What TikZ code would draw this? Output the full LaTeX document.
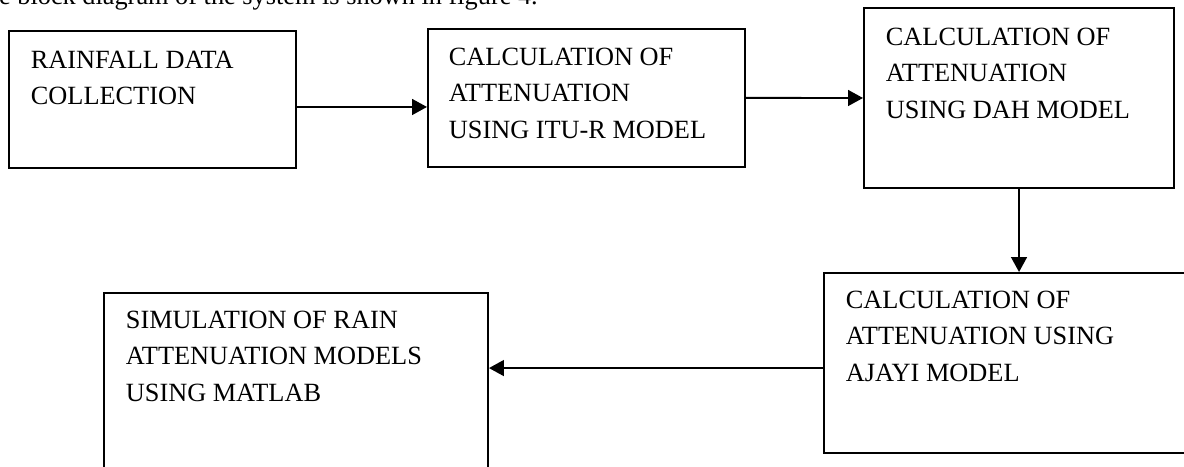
\documentclass[tikz,border=0pt]{standalone}
\usepackage{fontspec}
\setmainfont{Liberation Serif}
\usetikzlibrary{arrows.meta,positioning}

\begin{document}
\begin{tikzpicture}[x=0.456pt, y=-0.456pt, thick,
    box/.style={rectangle, draw, line width=0.9pt, anchor=north west, inner sep=0pt},
    txt/.style={anchor=north west, inner sep=0pt, align=left, font=\fontsize{12}{16.6}\selectfont},
    line/.style={draw, line width=0.9pt, -{Triangle[length=6.8pt, width=7.2pt]}}]

    \useasboundingbox (0,0) rectangle (1184,466);
    \clip (0,0) rectangle (1184,466);

    % cut-off sentence above the figure
    \node [anchor=base west, inner sep=0pt, font=\fontsize{12}{16.6}\selectfont] (intro) at (-31,4)
        {The block diagram of the system is shown in figure 4.};

    \node [box, minimum width=130.9pt, minimum height=62.5pt] (rain) at (8,30) {};
    \node [txt] (rain-t) at ([shift={(22,20)}]rain.north west) {RAINFALL DATA\\COLLECTION};

    \node [box, minimum width=144.6pt, minimum height=62.9pt] (itu) at (427,28) {};
    \node [txt] (itu-t) at ([shift={(21,19)}]itu.north west) {CALCULATION OF\\ATTENUATION\\USING ITU-R MODEL};

    \node [box, minimum width=141.4pt, minimum height=82.1pt] (dah) at (863,7) {};
    \node [txt] (dah-t) at ([shift={(22,20)}]dah.north west) {CALCULATION OF\\ATTENUATION\\USING DAH MODEL};

    \node [box, minimum width=167.4pt, minimum height=82.1pt] (ajayi) at (823,272) {};
    \node [txt] (ajayi-t) at ([shift={(22,18)}]ajayi.north west) {CALCULATION OF\\ATTENUATION USING\\AJAYI MODEL};

    \node [box, minimum width=175.1pt, minimum height=85.7pt] (sim) at (103,292) {};
    \node [txt] (sim-t) at ([shift={(22,18)}]sim.north west) {SIMULATION OF RAIN\\ATTENUATION MODELS\\USING MATLAB};

    \path [line] ([yshift=-3.4pt]rain.east) -- ([yshift=-3.4pt]rain.east -| itu.west);
    \path [line] (itu) -- (dah);
    \path [line] (dah) -- (dah |- ajayi.north);
    \path [line] ([yshift=-2.3pt]ajayi.west) -- ([yshift=-2.3pt]ajayi.west -| sim.east);
\end{tikzpicture}
\end{document}
